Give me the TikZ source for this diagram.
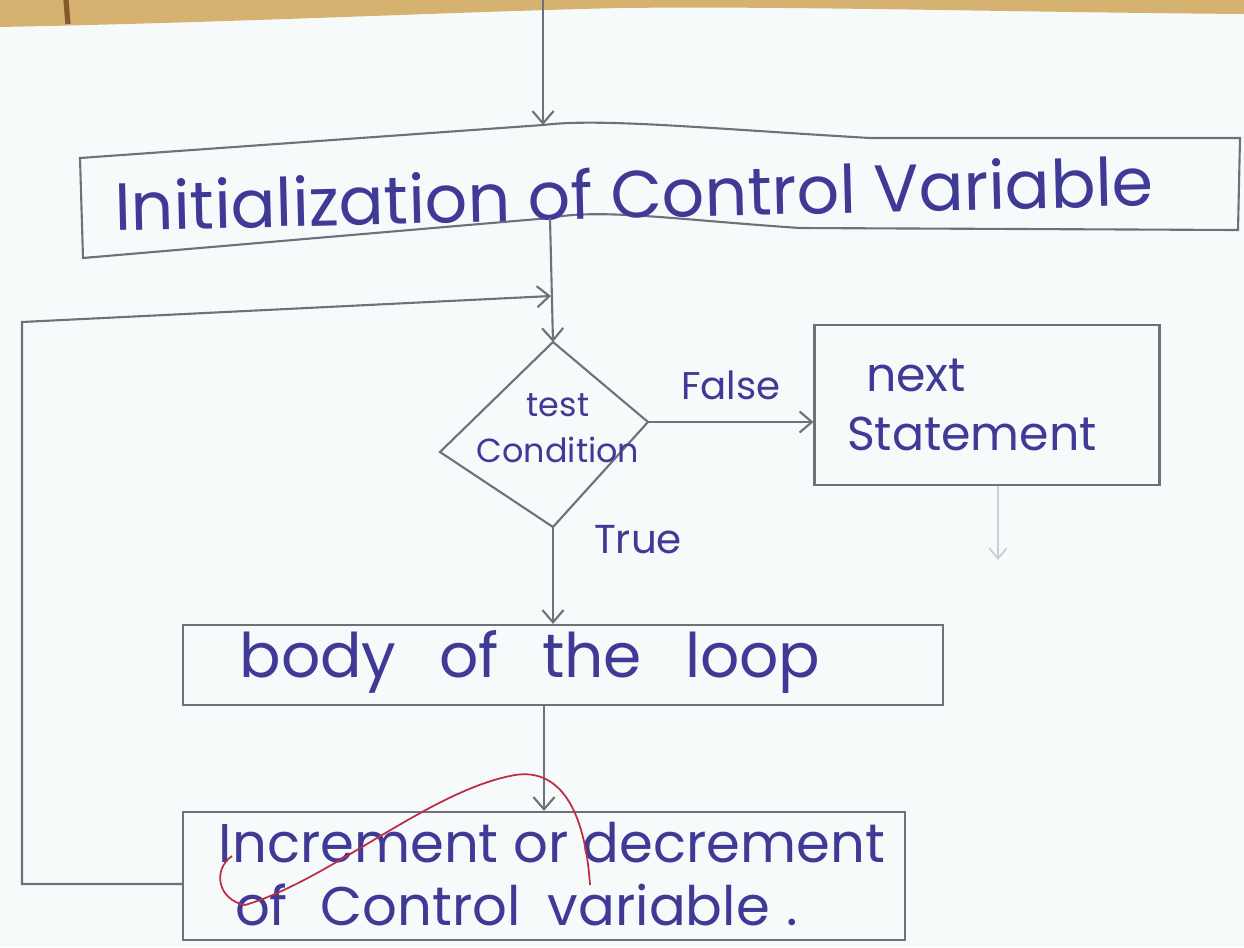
\documentclass[tikz,border=0pt]{standalone}
\usepackage{fontspec}
\setmainfont{Poppins}
\usetikzlibrary{arrows.meta}
\definecolor{ink}{RGB}{62,58,150}
\definecolor{pencil}{RGB}{112,112,124}
\definecolor{paper}{RGB}{247,250,250}
\definecolor{edge}{RGB}{214,178,112}
\definecolor{redpen}{RGB}{190,45,70}
\begin{document}
\begin{tikzpicture}[x=0.02cm,y=-0.02cm,
  line/.style={draw=pencil, line width=1.2pt},
  arr/.style={line, -{Straight Barb[length=7pt,width=12pt]}},
  box/.style={line, rectangle, inner sep=0pt},
  txt/.style={text=ink, inner sep=0pt, align=left},
]
% paper and its torn top edge
\useasboundingbox (0,0) rectangle (1244,947);
\fill[paper] (0,0) rectangle (1244,947);
\fill[edge] (0,0) -- (1244,0) -- (1244,14) .. controls (1000,12) and (800,6) .. (620,8)
  .. controls (450,12) and (250,22) .. (0,27) -- cycle;
\draw[brown!70!black, line width=3pt] (66,0) -- (68,24);

% initialization box (hand-drawn, wavy outline)
\draw[line] (80,158) -- (543,125) .. controls (600,118) and (700,128) .. (870,138)
  -- (1240,138) -- (1238,230) -- (800,228) .. controls (680,220) and (600,208) .. (550,218)
  -- (83,258) -- cycle;
\coordinate (initTop) at (543,125);
\coordinate (initBot) at (550,218);
\node[txt, rotate=1.4, font=\fontsize{38}{44}\selectfont] (init) at (634,193) {Initialization of Control Variable};

% decision diamond
\coordinate (condT) at (553,342);
\coordinate (condR) at (648,422);
\coordinate (condB) at (553,527);
\coordinate (condL) at (440,452);
\draw[line] (condT) -- (condR) -- (condB) -- (condL) -- cycle;
\node[txt, align=center, font=\fontsize{19}{26}\selectfont] (cond) at (558,428) {test\\Condition};

% process boxes
\node[box, minimum width=6.9cm, minimum height=3.2cm] (next) at (987,405) {};
\node[txt, font=\fontsize{27}{34}\selectfont] (nexttxt) at (972,405) {\hspace*{0.4em}next\\Statement};
\node[box, minimum width=15.2cm, minimum height=1.6cm] (body) at (563,665) {};
\node[txt, font=\fontsize{35}{40}\selectfont] (bodytxt) at (530,662) {body\hspace{0.7em}of\hspace{0.7em}the\hspace{0.7em}loop};
\node[box, minimum width=14.44cm, minimum height=2.56cm] (incr) at (544,876) {};
\node[txt, font=\fontsize{31}{36}\selectfont] (incrtxt) at (552,874) {Increment or decrement\\\hspace*{0.3em}of\hspace{0.6em}Control\hspace{0.5em}variable\hspace{0.3em}.};

% connectors
\coordinate (entry) at (543,0);
\draw[arr] (entry) -- (initTop);
\draw[arr] (initBot) -- (condT);
\draw[arr] (condR) -- (condR -| next.west)
  node[midway, above=12pt, txt, font=\fontsize{22}{26}\selectfont] (false) {False};
\draw[arr] (condB) -- (condB |- body.north);
\node[txt, font=\fontsize{23}{26}\selectfont] (true) at (638,540) {True};
\draw[arr] (incr.north |- body.south) -- (incr.north);

% loop back from the update step to the test
\coordinate (loopB) at (22,884);
\coordinate (loopT) at (22,322);
\coordinate (loopJoin) at (551,296);
\draw[arr] (incr.west |- loopB) -- (loopB) -- (loopT) -- (loopJoin);

% faint continuation below the next statement
\coordinate (exit) at (998,560);
\draw[draw=pencil!35, line width=1pt, -{Straight Barb[length=6pt,width=10pt]}] (next.south -| exit) -- (exit);

% red pen scribble over the last box
\draw[redpen, line width=1pt] (232,856) .. controls (212,870) and (218,900) .. (245,905)
  .. controls (330,880) and (430,790) .. (515,775)
  .. controls (560,768) and (585,810) .. (590,885);
\end{tikzpicture}
\end{document}
